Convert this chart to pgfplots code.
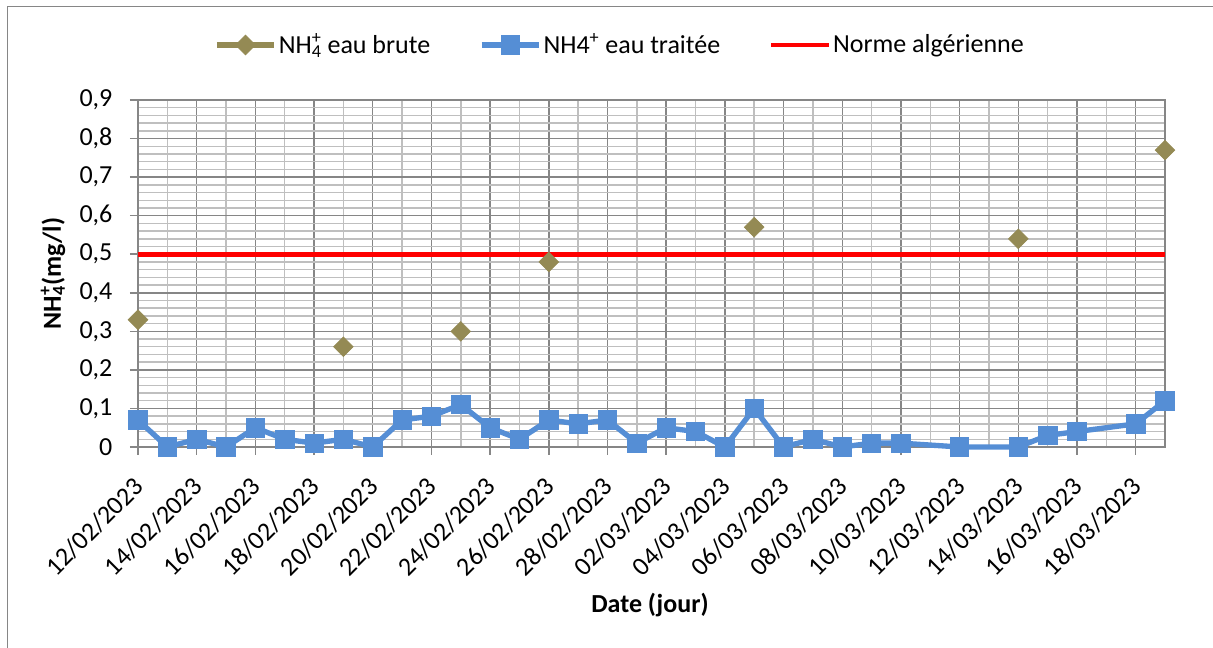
\documentclass[border=0pt]{standalone}
\usepackage{fontspec}
\setmainfont{Carlito}
\usepackage{pgfplots}
\pgfplotsset{compat=1.18}
\definecolor{cBrute}{HTML}{948A54}
\definecolor{cTraitee}{HTML}{558ED5}
\definecolor{cGridMaj}{HTML}{868686}
\definecolor{cGridMin}{HTML}{BFBFBF}
\newcommand\nhq{NH\rlap{\textsuperscript{+}}\textsubscript{4}}

\begin{document}
\fontsize{19.5}{23}\selectfont
\begin{tikzpicture}
\path[use as bounding box] (0,0) rectangle (909.75pt,486pt);
\draw[cGridMaj, line width=0.75pt] (5.25pt,-2pt) -- (5.25pt,480.75pt) -- (912pt,480.75pt);
\begin{axis}[at={(103.5pt,150.75pt)}, anchor=south west,
  scale only axis, width=770.25pt, height=260.25pt,
  xmin=0, xmax=35, ymin=0, ymax=0.9,
  xtick={0,2,...,34}, minor xtick={1,3,...,35},
  xticklabels={12/02/2023,14/02/2023,16/02/2023,18/02/2023,20/02/2023,22/02/2023,
    24/02/2023,26/02/2023,28/02/2023,02/03/2023,04/03/2023,06/03/2023,08/03/2023,
    10/03/2023,12/03/2023,14/03/2023,16/03/2023,18/03/2023},
  ytick={0,0.1,0.2,0.3,0.4,0.5,0.6,0.7,0.8,0.9}, minor y tick num=4,
  grid=both,
  major grid style={cGridMaj, line width=1.1pt},
  minor grid style={cGridMin, line width=1.1pt},
  axis line style={cGridMaj, line width=1.1pt},
  tick align=outside, major tick length=6pt, minor tick length=0pt,
  tick style={cGridMaj, line width=1.1pt},
  xtick pos=bottom, ytick pos=left,
  /pgf/number format/assume math mode=true,
  yticklabel style={/pgf/number format/.cd, fixed, precision=1, use comma},
  yticklabel shift=6.5pt,
  xticklabel style={xshift=-4.5pt, yshift=-6pt, rotate=45, anchor=north east},
  xlabel={\textbf{Date (jour)}}, ylabel={\textbf{\nhq(mg/l)}},
  xlabel style={at={(axis description cs:0.4985,-0.455)}, anchor=center},
  ylabel style={at={(axis description cs:-0.0828,0.5)}, anchor=center},
  clip=false, unbounded coords=jump,
  legend columns=3,
  legend style={draw=none, fill=none, at={(0.4693,1.1585)}, anchor=center,
    nodes={inner xsep=1.5pt},
    /tikz/every even column/.append style={column sep=35pt}},
  legend cell align=left,
  legend image code/.code={\draw[mark repeat=2, mark phase=2, #1]
    plot coordinates {(0pt,0pt) (21.5pt,0pt) (43pt,0pt)};},
]
\addplot[cBrute, line width=4pt, mark=square*, mark size=5.2pt,
  mark options={rotate=45, line width=0.5pt, fill=cBrute}]
  coordinates {(0,0.33) (1,nan) (7,0.26) (8,nan) (11,0.30) (12,nan) (14,0.48) (15,nan)
    (21,0.57) (22,nan) (30,0.54) (31,nan) (35,0.77)};
\addlegendentry{\nhq\ eau brute}
\addplot[cTraitee, line width=4pt, mark=square*, mark size=6.9pt,
  mark options={line width=0.5pt, fill=cTraitee}]
  coordinates {(0,0.07) (1,0) (2,0.02) (3,0) (4,0.05) (5,0.02) (6,0.01) (7,0.02) (8,0)
    (9,0.07) (10,0.08) (11,0.11) (12,0.05) (13,0.02) (14,0.07) (15,0.06) (16,0.07)
    (17,0.01) (18,0.05) (19,0.04) (20,0) (21,0.10) (22,0) (23,0.02) (24,0) (25,0.01)
    (26,0.01) (28,0) (30,0) (31,0.03) (32,0.04) (34,0.06) (35,0.12)};
\addlegendentry{NH4\textsuperscript{+} eau traitée}
\addplot[red, line width=3.6pt] coordinates {(0,0.5) (35,0.5)};
\addlegendentry{Norme algérienne}
\end{axis}
\end{tikzpicture}
\end{document}
